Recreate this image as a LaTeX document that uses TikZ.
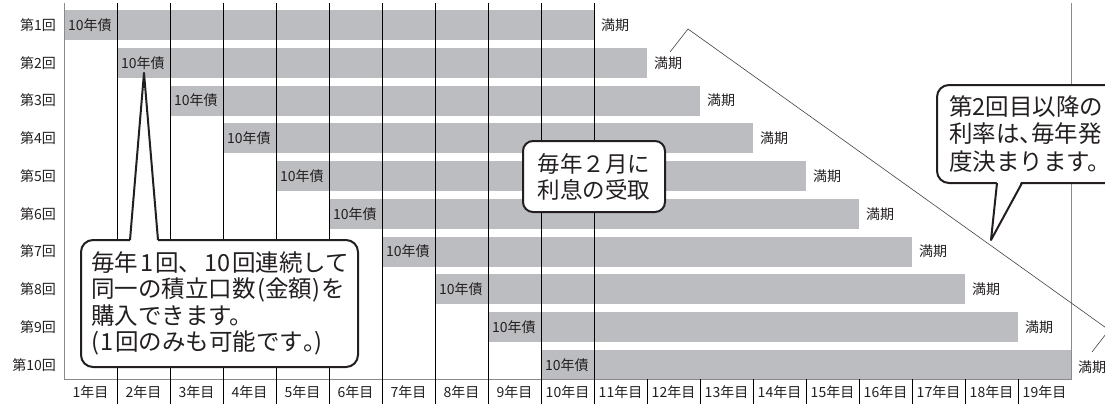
\documentclass[tikz,border=0pt]{standalone}
\usepackage{fontspec}
\setmainfont{Noto Sans CJK JP}
\newfontfamily\halffont[RawFeature=+halt]{Noto Sans CJK JP}
\newcommand{\hw}[1]{{\halffont #1}}
\definecolor{bargray}{HTML}{BCBDC0}
\definecolor{ink}{HTML}{231F20}
\definecolor{framegray}{HTML}{8A8A8A}
\begin{document}
\begin{tikzpicture}[x=1pt,y=-1pt,
  small/.style={font=\fontsize{14}{15}\selectfont, text=ink, inner sep=0pt},
  gridline/.style={draw=black, line width=0.9pt},
  frameline/.style={draw=framegray, line width=1pt},
  callout/.style={draw=ink, line width=2pt, fill=white, rounded corners=12pt, inner sep=0pt},
  bigtext/.style={font=\fontsize{23.5}{26.5}\selectfont, text=ink, inner sep=0pt, anchor=west},
  tailline/.style={draw=ink, line width=2pt, line join=round},
  thinline/.style={draw=ink!85, line width=0.6pt}]
\useasboundingbox (0,0) rectangle (1105,404);
\clip (0,0) rectangle (1105,404);
% bars
\foreach \k in {1,...,10}{
  \pgfmathsetmacro\xs{64+53*(\k-1)}
  \pgfmathsetmacro\xe{\xs+530}
  \pgfmathsetmacro\yt{10+37.75*(\k-1)}
  \pgfmathsetmacro\yb{\yt+30}
  \fill[bargray] (\xs,\yt) rectangle (\xe,\yb);
}
% frame
\draw[frameline] (64,3) -- (64,379) -- (1071,379) -- (1071,3);
% grid lines
\foreach \i in {1,...,10}{
  \draw[gridline] ({64+53*\i},3) -- ({64+53*\i},404);
}
\foreach \i in {11,...,18}{
  \draw[gridline] ({64+53*\i},379) -- ({64+53*\i},404);
}
% labels
\foreach \k in {1,...,10}{
  \pgfmathsetmacro\xs{64+53*(\k-1)}
  \pgfmathsetmacro\yc{25+37.75*(\k-1)}
  \node[small, anchor=east] (r\k) at (56,\yc) {第\k 回};
  \node[small, anchor=west] (b\k) at ({\xs+4},\yc) {10年債};
}
\foreach \k in {1,...,9}{
  \pgfmathsetmacro\xe{64+53*(\k-1)+530}
  \pgfmathsetmacro\yc{25+37.75*(\k-1)}
  \node[small, anchor=west] (m\k) at ({\xe+7},\yc) {満期};
}
\node[small, anchor=west] (m10) at (1078,367) {満期};
\foreach \i in {1,...,19}{
  \node[small] (y\i) at ({64+53*\i-26.5},392) {\i 年目};
}
% bracket connecting maturities
\coordinate (p1) at (670,52);
\coordinate (p2) at (688,29);
\coordinate (p3) at (1109,330);
\coordinate (p4) at (1092,352);
\draw[thinline] (p1) -- (p2) -- (p3) -- (p4);
% left callout
\node[callout, minimum width=277pt, minimum height=127pt] (c1) at (219.5,303.5) {};
\coordinate (c1a) at (130,240);
\coordinate (c1b) at (158,240);
\coordinate (c1t) at (144,73);
\fill[white] ([yshift=-3pt]c1a) -- (c1t) -- ([yshift=-3pt]c1b) -- cycle;
\draw[tailline] (c1a) -- (c1t) -- (c1b);
\node[bigtext] (t1a) at (91,263) {毎年\kern2pt 1\kern2pt 回、\kern2pt 10\kern2pt 回連続して};
\node[bigtext] (t1b) at (91,289.5) {同一の積立口数\kern1.5pt(金額)\kern1.5pt を};
\node[bigtext] (t1c) at (91,316) {購入できます。};
\node[bigtext] (t1d) at (91,342.5) {(\kern1pt 1\kern2pt 回のみも可能です\hw{。})};
% middle callout
\node[callout, rounded corners=10pt, minimum width=142pt, minimum height=71pt] (c2) at (594,176.5) {};
\node[bigtext, anchor=center, font=\fontsize{22.5}{26}\selectfont, align=center] (t2) at (594,177) {毎年２月に\\利息の受取};
% right callout
\node[callout, minimum width=210pt, minimum height=98pt] (c3) at (1042,134) {};
\coordinate (c3a) at (997,183);
\coordinate (c3b) at (1022,183);
\coordinate (c3t) at (991,240);
\fill[white] ([yshift=3pt]c3a) -- (c3t) -- ([yshift=3pt]c3b) -- cycle;
\draw[tailline] (c3a) -- (c3t) -- (c3b);
\node[bigtext, font=\fontsize{23.5}{27.5}\selectfont, align=left] (t3) at (949,134) {第2回目以降の\\利率は\hw{、}毎年発\\度決まります。};
\end{tikzpicture}
\end{document}
